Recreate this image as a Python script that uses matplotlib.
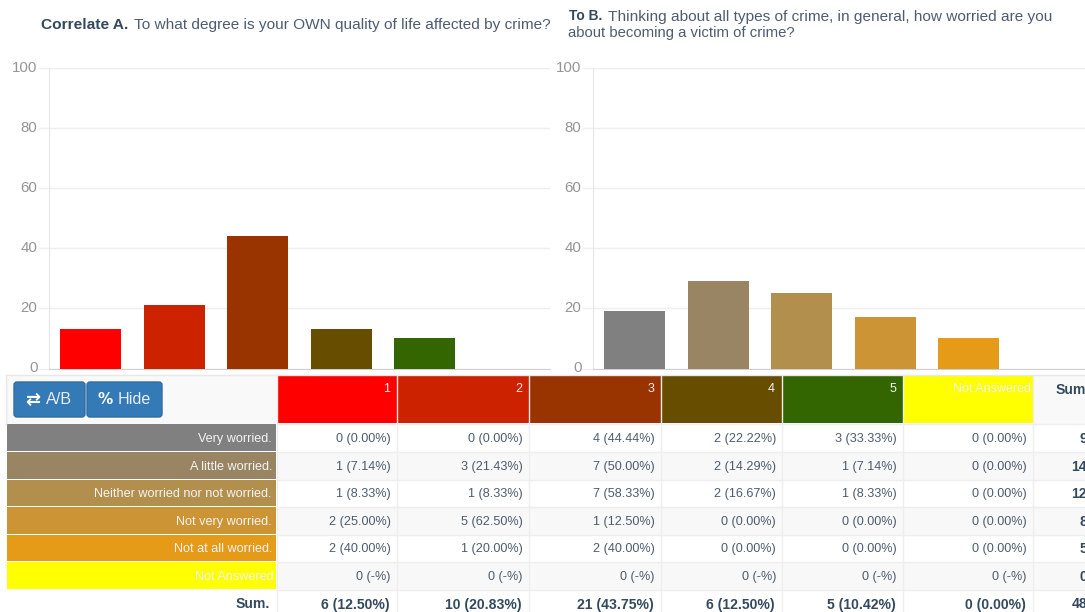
import matplotlib
matplotlib.use("Agg")
import matplotlib.pyplot as plt
from matplotlib.patches import Rectangle, FancyBboxPatch

plt.rcParams['font.family'] = ['Liberation Sans', 'DejaVu Sans']

# ---- data
categories = ['1', '2', '3', '4', '5', 'Not Answered']
values_a = [13, 21, 44, 13, 10, 0]
values_b = [19, 29, 25, 17, 10, 0]
colors_a = ['#ff0000', '#cc2200', '#993300', '#664d00', '#336600', '#ffff00']
colors_b = ['#808080', '#998563', '#b38f4e', '#cc9435', '#e59a18', '#ffff00']
row_labels = ['Very worried.', 'A little worried.', 'Neither worried nor not worried.',
              'Not very worried.', 'Not at all worried.', 'Not Answered']
yticks = [0, 20, 40, 60, 80, 100]
cells = [
    ['0 (0.00%)', '0 (0.00%)', '4 (44.44%)', '2 (22.22%)', '3 (33.33%)', '0 (0.00%)', '9'],
    ['1 (7.14%)', '3 (21.43%)', '7 (50.00%)', '2 (14.29%)', '1 (7.14%)', '0 (0.00%)', '14'],
    ['1 (8.33%)', '1 (8.33%)', '7 (58.33%)', '2 (16.67%)', '1 (8.33%)', '0 (0.00%)', '12'],
    ['2 (25.00%)', '5 (62.50%)', '1 (12.50%)', '0 (0.00%)', '0 (0.00%)', '0 (0.00%)', '8'],
    ['2 (40.00%)', '1 (20.00%)', '2 (40.00%)', '0 (0.00%)', '0 (0.00%)', '0 (0.00%)', '5'],
    ['0 (-%)', '0 (-%)', '0 (-%)', '0 (-%)', '0 (-%)', '0 (-%)', '0'],
]
sum_row = ['6 (12.50%)', '10 (20.83%)', '21 (43.75%)', '6 (12.50%)', '5 (10.42%)', '0 (0.00%)', '48']

# ---- layout (pixels)
W, H = 1085, 612
col_edges = [7, 277, 397, 529, 661, 782, 903, 1033, 1100]
row_edges = [376, 424, 452, 480, 507, 535, 562, 590, 618]
text_col = '#4d5c6e'
bold_col = '#34495e'
fig = plt.figure(figsize=(W / 100, H / 100), dpi=100)
fig.patch.set_facecolor('white')

def px_axes(x0, x1, ytop, ybot):
    return fig.add_axes([x0 / W, 1 - ybot / H, (x1 - x0) / W, (ybot - ytop) / H])

for x0, vals, cols in [(49, values_a, colors_a), (593, values_b, colors_b)]:
    ax = px_axes(x0, x0 + 501, 68, 368.5)
    ax.set_xlim(-0.5, 5.5)
    ax.set_ylim(0, 100)
    ax.bar(range(6), vals, width=0.73, color=cols, zorder=3)
    ax.set_yticks(yticks)
    ax.set_xticks([])
    ax.tick_params(axis='y', labelsize=10.8, labelcolor='#949494', color='#eeeeee', length=8, width=1, pad=0.3)
    for lab in ax.get_yticklabels():
        lab.set_verticalalignment('center')
    ax.grid(axis='y', color='#eeeeee', lw=1, zorder=0)
    ax.set_axisbelow(True)
    for s in ['top', 'right']:
        ax.spines[s].set_visible(False)
    ax.spines['left'].set_color('#e6e6e6')
    ax.spines['bottom'].set_color('#d0d0d0')
    ax.patch.set_alpha(0)

# overlay in pixel coordinates
ov = fig.add_axes([0, 0, 1, 1])
ov.set_xlim(0, W)
ov.set_ylim(H, 0)
ov.axis('off')

# titles
ov.text(41, 25, 'Correlate A.', fontsize=11.15, fontweight='bold', color=bold_col, va='center')
ov.text(134, 25, 'To what degree is your OWN quality of life affected by crime?', fontsize=11.08, color=text_col, va='center')
ov.text(569, 16.5, 'To B.', fontsize=9.9, fontweight='bold', color=bold_col, va='center')
ov.text(608, 16.5, 'Thinking about all types of crime, in general, how worried are you', fontsize=11.05, color=text_col, va='center')
ov.text(568, 33.5, 'about becoming a victim of crime?', fontsize=10.75, color=text_col, va='center')

# table background
ov.add_patch(Rectangle((6, 375), W - 6, 49, fc='#f9f9f9', ec='none'))
ov.plot([6, W], [375, 375], color='#e8e8e8', lw=1)
ov.plot([6, 6], [375, 424], color='#e8e8e8', lw=1)

# rows striping and grid
for r in range(7):
    y0, y1 = row_edges[r + 1], row_edges[r + 2]
    if r % 2 == 1 and r < 6:
        ov.add_patch(Rectangle((277, y0), W - 277, y1 - y0, fc='#f8f8f8', ec='none'))
for y in row_edges[1:8]:
    ov.plot([277, W], [y - 0.5, y - 0.5], color='#eeeeee', lw=1)
for x in col_edges[1:8]:
    ov.plot([x - 0.5, x - 0.5], [376, H], color='#eeeeee', lw=1)

# header cells
for c, name in enumerate(categories):
    x0, x1 = col_edges[c + 1], col_edges[c + 2]
    ov.add_patch(Rectangle((x0, 376), x1 - x0 - 0.5, 47, fc=colors_a[c], ec='none'))
    ov.text(x1 - 7 if c < 5 else x1 - 2, 389.5, name, fontsize=9, color='#f4f4f4', ha='right', va='center')
ov.text(1090, 389.5, 'Sum.', fontsize=10.1, fontweight='bold', color=bold_col, ha='right', va='center')

# row labels + cells
for r, label in enumerate(row_labels):
    y0, y1 = row_edges[r + 1], row_edges[r + 2]
    yc = (y0 + y1) / 2 + 0.8
    ov.add_patch(Rectangle((7, y0), 269, y1 - y0 - 1.5, fc=colors_b[r], ec='none'))
    ov.text(272 if r < 5 else 274, yc, label, fontsize=9.05, color='#f4f4f4', ha='right', va='center')
    for c, txt in enumerate(cells[r]):
        x1 = col_edges[c + 2]
        if c == 6:
            ov.text(1087, yc, txt, fontsize=10.1, fontweight='bold', color=bold_col, ha='right', va='center')
        else:
            ov.text(x1 - 6, yc, txt, fontsize=9.1, color=text_col, ha='right', va='center')

# sum row
yc = 604.5
ov.text(270, yc, 'Sum.', fontsize=10.1, fontweight='bold', color=bold_col, ha='right', va='center')
for c, txt in enumerate(sum_row):
    xr = 1087 if c == 6 else col_edges[c + 2] - 7.5
    ov.text(xr, yc, txt, fontsize=10.1, fontweight='bold', color=bold_col, ha='right', va='center')

# buttons
for x0, x1, icon, lab, tx, isz in [(14, 85, '\u21c4', 'A/B', 46, 13), (87, 162, '%', 'Hide', 118, 11)]:
    ov.add_patch(FancyBboxPatch((x0 + 3, 385), x1 - x0 - 6, 29, boxstyle='round,pad=3', fc='#337ab7', ec='#2e6da4', lw=1))
    ov.text(x0 + 11, 399.5, icon, fontsize=isz, fontweight='bold', color='white', ha='left', va='center', family='DejaVu Sans')
    ov.text(tx, 400, lab, fontsize=11.6, color='#e8eef5', ha='left', va='center')

fig.savefig('out.png', dpi=100)
